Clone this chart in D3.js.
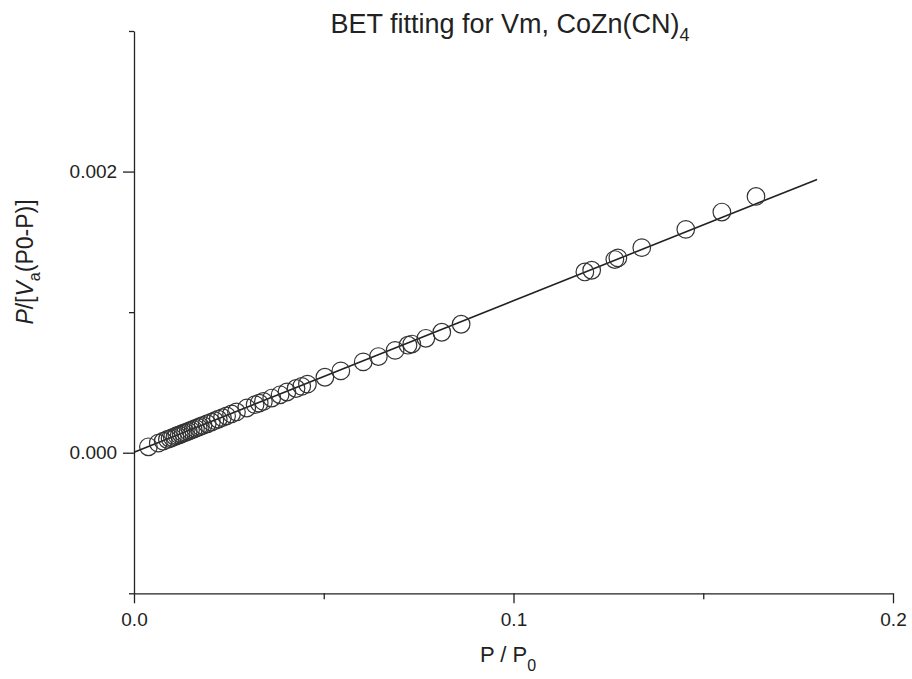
<!DOCTYPE html>
<html><head><meta charset="utf-8">
<script src="https://cdn.jsdelivr.net/npm/d3@7"></script>
<style>
body{margin:0;background:#fff;}
svg{display:block;font-family:"Liberation Sans",Arial,sans-serif;}
</style></head>
<body><svg id="c" width="912" height="679"></svg>
<script>
// Data
const pressureRatio = [0.0038,0.0064,0.0077,0.0088,0.0095,0.0101,0.0108,0.0113,0.0119,0.0124,0.0130,0.0136,0.0143,0.0149,0.0156,0.0162,0.0169,0.0175,0.0182,0.0193,0.0204,0.0213,0.0222,0.0233,0.0244,0.0257,0.0270,0.0297,0.0319,0.0330,0.0341,0.0363,0.0385,0.0403,0.0427,0.0442,0.0457,0.0503,0.0545,0.0604,0.0644,0.0688,0.0722,0.0732,0.0769,0.0811,0.0862,0.1188,0.1206,0.1267,0.1275,0.1338,0.1454,0.1549,0.1639];
const betValue = [0.000042,0.000068,0.000082,0.000094,0.000101,0.000108,0.000115,0.000121,0.000127,0.000133,0.000139,0.000145,0.000152,0.000159,0.000166,0.000173,0.000180,0.000187,0.000194,0.000206,0.000218,0.000228,0.000238,0.000250,0.000262,0.000276,0.000290,0.000318,0.000342,0.000353,0.000365,0.000389,0.000412,0.000432,0.000457,0.000472,0.000488,0.000537,0.000582,0.000646,0.000684,0.000728,0.000765,0.000773,0.000814,0.000857,0.000914,0.001286,0.001298,0.001374,0.001386,0.001459,0.001589,0.001712,0.001823];
const fitX = [0.0, 0.18];
const fitY = [0.000003, 0.001944];
const xTicksMajor = [0.0, 0.1, 0.2];
const xTickLabels = ["0.0", "0.1", "0.2"];
const xTicksMinor = [0.05, 0.15];
const yTicksMajor = [0.000, 0.002];
const yTickLabels = ["0.000", "0.002"];
const yTicksMinor = [-0.001, 0.001, 0.003];

const svg = d3.select("#c");
const x = d3.scaleLinear().domain([0, 0.2]).range([134, 893]);
const y = d3.scaleLinear().domain([-0.001, 0.003]).range([593.3, 31]);
const ink = "#222";

// X axis
const gx = svg.append("g").attr("transform", `translate(0,${y(-0.001)})`);
gx.call(d3.axisBottom(x).tickValues(xTicksMajor).tickSize(10).tickSizeOuter(0)
  .tickFormat((d,i)=>xTickLabels[i]));
gx.append("g").call(d3.axisBottom(x).tickValues(xTicksMinor).tickSize(6).tickFormat(""))
  .select(".domain").remove();
// Y axis
const gy = svg.append("g").attr("transform", `translate(${x(0)},0)`);
gy.call(d3.axisLeft(y).tickValues(yTicksMajor).tickSize(11).tickSizeOuter(0)
  .tickFormat((d,i)=>yTickLabels[i]));
gy.append("g").call(d3.axisLeft(y).tickValues(yTicksMinor).tickSize(5).tickFormat(""))
  .select(".domain").remove();

svg.selectAll(".domain, .tick line").attr("stroke", ink).attr("stroke-width", 1.3);
gx.selectAll(".tick text").attr("fill", ink).attr("font-size", 19).attr("dy", "1.05em")
  .attr("font-family", "Liberation Sans, Arial, sans-serif");
gy.selectAll(".tick text").attr("fill", ink).attr("font-size", 19).attr("dx", "-0.15em")
  .attr("font-family", "Liberation Sans, Arial, sans-serif");

// Fit line
const fit = fitX.map((d,i)=>[d, fitY[i]]);
svg.append("path").datum(fit)
  .attr("d", d3.line().x(d=>x(d[0])).y(d=>y(d[1])))
  .attr("fill","none").attr("stroke", ink).attr("stroke-width", 1.6);

// Points
const pts = pressureRatio.map((d,i)=>[d, betValue[i]]);
svg.append("g").selectAll("circle").data(pts).join("circle")
  .attr("cx", d=>x(d[0])).attr("cy", d=>y(d[1])).attr("r", 8.8)
  .attr("fill","none").attr("stroke", "#333").attr("stroke-width", 1.2);

// Title
const t = svg.append("text").attr("x", 510).attr("y", 33).attr("text-anchor","middle")
  .attr("font-size", 27).attr("fill", ink);
t.append("tspan").text("BET fitting for Vm, CoZn(CN)");
t.append("tspan").attr("font-size", 18).attr("dy", 8).text("4");

// X label
const xl = svg.append("text").attr("x", 508).attr("y", 662).attr("text-anchor","middle")
  .attr("font-size", 22).attr("fill", ink);
xl.append("tspan").text("P / P");
xl.append("tspan").attr("font-size", 16).attr("dy", 9).text("0");

// Y label
const yl = svg.append("text").attr("transform", "translate(33,262) rotate(-90)")
  .attr("text-anchor","middle").attr("font-size", 23).attr("fill", ink);
yl.append("tspan").attr("font-style","italic").text("P");
yl.append("tspan").text("/[");
yl.append("tspan").attr("font-style","italic").text("V");
yl.append("tspan").attr("font-size", 16).attr("dy", 7).text("a");
yl.append("tspan").attr("dy", -7).text("(P0-P)]");
</script>
</body></html>
